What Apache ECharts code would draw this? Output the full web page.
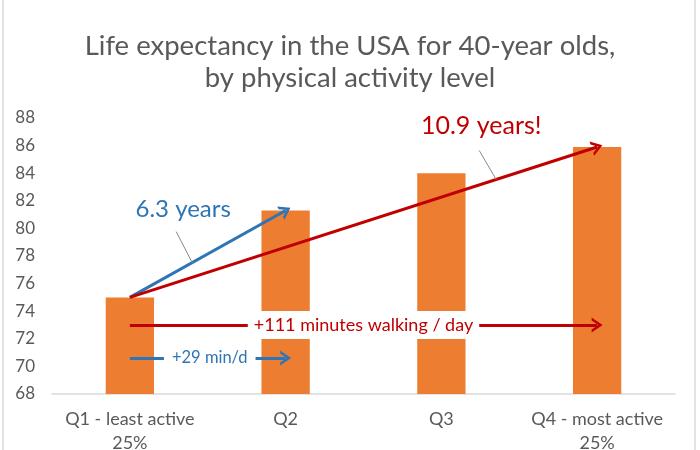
<!DOCTYPE html>
<html><head><meta charset="utf-8">
<script src="https://cdn.jsdelivr.net/npm/echarts@6/dist/echarts.min.js"></script>
<style>html,body{margin:0;padding:0;background:#fff}#c{width:700px;height:450px}</style>
</head><body><div id="c"></div>
<script>
const titleLines = ['Life expectancy in the USA for 40-year olds,', 'by physical activity level'];
const categories = ['Q1 - least active\n25%', 'Q2', 'Q3', 'Q4 - most active\n25%'];
const lifeExpectancy = [75, 81.3, 84, 85.9];
const yMin = 68, yMax = 88, yInterval = 2;
const gainQ2Label = '6.3 years';
const gainQ4Label = '10.9 years!';
const walkQ4Label = '+111 minutes walking / day';
const walkQ4Level = 73;
const walkQ2Label = '+29 min/d';
const walkQ2Level = 70.6;

const FONT = 'Lato';
const BLUE = '#2E75B6', RED = '#C00000', ORANGE = '#ED7D31', GREY = '#595959';
const chevron = 'path://M0,10 L5,0 L10,10 L8,10 L5,4 L2,10 Z';

const chart = echarts.init(document.getElementById('c'), null, {renderer: 'canvas'});

function seg(c1, v1, c2, v2, color) {
  return [
    {coord: [c1, v1], lineStyle: {color: color, width: 3, type: 'solid'}},
    {coord: [c2, v2]}
  ];
}

chart.setOption({
  animation: false,
  backgroundColor: '#fff',
  title: {
    text: titleLines.join('\n'), left: 'center', top: 25,
    textStyle: {fontFamily: FONT, fontSize: 27.5, fontWeight: 'normal', color: GREY, lineHeight: 32}
  },
  grid: {left: 52, right: 25, top: 118, bottom: 56, outerBoundsMode: 'none', containLabel: false},
  xAxis: {
    type: 'category', data: categories,
    axisLine: {lineStyle: {color: '#d9d9d9', width: 1.5}},
    axisTick: {show: false},
    axisLabel: {interval: 0, color: GREY, fontFamily: FONT, fontSize: 18, lineHeight: 24, margin: 13}
  },
  yAxis: {
    type: 'value', min: yMin, max: yMax, interval: yInterval,
    axisLine: {show: false}, axisTick: {show: false}, splitLine: {show: false},
    axisLabel: {color: GREY, fontFamily: FONT, fontSize: 17, margin: 17}
  },
  series: [{
    type: 'bar', data: lifeExpectancy, barWidth: '31%',
    itemStyle: {color: ORANGE},
    markLine: {
      silent: true, animation: false,
      label: {show: false},
      symbol: ['none', chevron], symbolSize: [15, 11],
      data: [
        seg(categories[0], lifeExpectancy[0], categories[1], lifeExpectancy[1], BLUE),
        seg(categories[0], lifeExpectancy[0], categories[3], lifeExpectancy[3], RED),
        seg(categories[0], walkQ4Level, categories[3], walkQ4Level, RED),
        seg(categories[0], walkQ2Level, categories[1], walkQ2Level, BLUE)
      ]
    }
  }]
});

// annotations tied to the arrows
const px = (c, v) => chart.convertToPixel({seriesIndex: 0}, [c, v]);
const p0 = px(categories[0], lifeExpectancy[0]);
const p1 = px(categories[1], lifeExpectancy[1]);
const p3 = px(categories[3], lifeExpectancy[3]);
const h4a = px(categories[0], walkQ4Level), h4b = px(categories[3], walkQ4Level);
const h2a = px(categories[0], walkQ2Level), h2b = px(categories[1], walkQ2Level);
function along(a, b, t) { return [a[0] + (b[0] - a[0]) * t, a[1] + (b[1] - a[1]) * t]; }
const b = along(p0, p1, 0.4);
const r = along(p0, p3, 0.784);
chart.setOption({
  graphic: [
    {type: 'rect', z: 100, shape: {x: 3, y: -5, width: 692, height: 470}, style: {fill: 'none', stroke: '#d9d9d9', lineWidth: 1.5}, silent: true},
    {type: 'line', z: 100, shape: {x1: b[0] - 16, y1: b[1] - 31, x2: b[0], y2: b[1]}, style: {stroke: '#7f8c8d', lineWidth: 1}},
    {type: 'line', z: 100, shape: {x1: r[0] - 17, y1: r[1] - 29, x2: r[0], y2: r[1]}, style: {stroke: '#7f8c8d', lineWidth: 1}},
    {type: 'text', z: 100, x: b[0] - 9, y: b[1] - 53, style: {text: gainQ2Label, fill: BLUE, font: '24px ' + FONT, align: 'center', verticalAlign: 'middle'}},
    {type: 'text', z: 100, x: r[0] - 15, y: r[1] - 54, style: {text: gainQ4Label, fill: RED, font: '25px ' + FONT, align: 'center', verticalAlign: 'middle'}},
    {type: 'text', z: 100, x: (h4a[0] + h4b[0]) / 2, y: h4a[1], style: {text: walkQ4Label, fill: RED, font: '18px ' + FONT, align: 'center', verticalAlign: 'middle', backgroundColor: '#fff', padding: [5, 6]}},
    {type: 'text', z: 100, x: (h2a[0] + h2b[0]) / 2 + 2, y: h2a[1], style: {text: walkQ2Label, fill: BLUE, font: '16.5px ' + FONT, align: 'center', verticalAlign: 'middle', backgroundColor: '#fff', padding: [4, 8]}}
  ]
});
</script></body></html>
